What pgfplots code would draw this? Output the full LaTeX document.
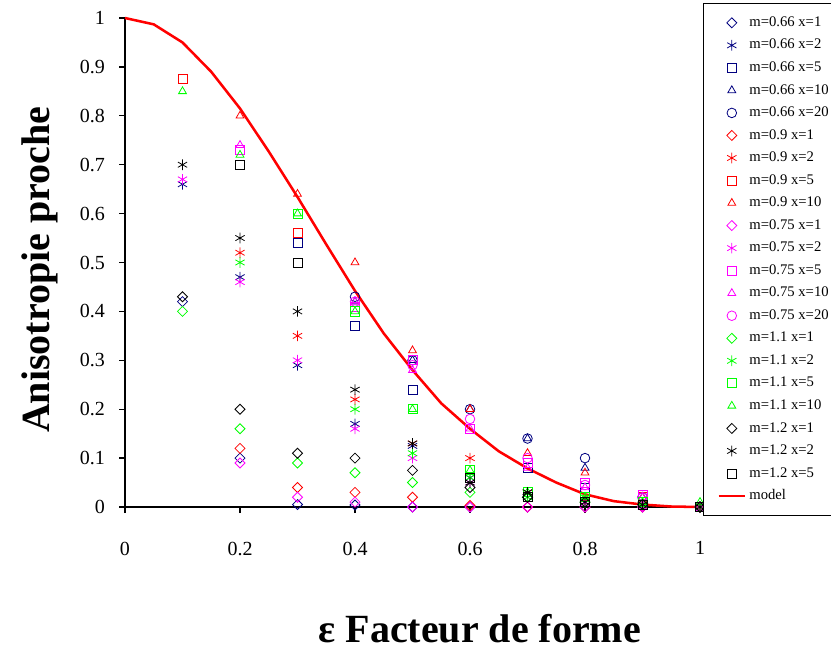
\documentclass[border=0pt]{standalone}
\usepackage{pgfplots}
\pgfplotsset{compat=1.18}
\usepackage{fontspec}
\setmainfont{Liberation Serif}
\definecolor{navyb}{RGB}{0,0,128}
\definecolor{limeg}{RGB}{0,255,0}
\definecolor{magb}{RGB}{255,0,255}
\definecolor{redb}{RGB}{255,0,0}
\pgfplotsset{
 mk/.style={only marks, color=#1, mark options={solid, line width=0.6pt, fill=none, draw=#1},
   legend image code/.code={\draw[mark repeat=2,mark phase=2,##1] plot coordinates {(0cm,0cm)(0.54cm,0cm)(0.9cm,0cm)};}},
 modelleg/.style={legend image code/.code={\path (0cm,0cm); \draw[##1] (0.19cm,0cm) -- (0.9cm,0cm);}},
 dia/.style={mark=square, mark size=2.65pt, every mark/.append style={rotate=45}},
 ast/.style={mark=asterisk, mark size=4pt},
 sq/.style={mark=square, mark size=3.4pt},
 tri/.style={mark=triangle, mark size=3.4pt},
 cir/.style={mark=o, mark size=3.6pt},
}
\begin{document}
\begin{tikzpicture}
\path[use as bounding box] (-93.75pt,-108pt) rectangle (529.5pt,380.25pt);
\begin{axis}[
 at={(0pt,0pt)}, anchor=south west,
 scale only axis, width=431.25pt, height=366.75pt,
 xmin=0, xmax=1, ymin=0, ymax=1,
 clip=false,
 axis x line=bottom, axis y line=left,
 axis line style={-, line width=1.4pt, black},
 tick align=outside, major tick length=4.5pt,
 tick style={black, line width=1pt},
 xtick={0,0.2,0.4,0.6,0.8,1},
 xticklabels={0,0.2,0.4,0.6,0.8,1},
 ytick={0,0.1,0.2,0.3,0.4,0.5,0.6,0.7,0.8,0.9,1},
 yticklabels={0,0.1,0.2,0.3,0.4,0.5,0.6,0.7,0.8,0.9,1},
 xticklabel style={font=\fontsize{15}{18}\selectfont, yshift=-18pt},
 yticklabel style={font=\fontsize{15}{18}\selectfont, xshift=-7pt},
 xlabel={\bfseries ε Facteur de forme},
 ylabel={\bfseries Anisotropie proche},
 xlabel style={font=\fontsize{30}{36}\selectfont, inner sep=0pt, at={(axis description cs:0.617,-0.249)}, anchor=center},
 ylabel style={font=\fontsize{30}{36}\selectfont, at={(axis description cs:-0.148,0.485)}, anchor=center},
 legend style={at={(1.0052,1.0307)}, anchor=north west, draw=black, line width=0.6pt,
   font=\fontsize{11}{13}\selectfont, row sep=8.4pt, inner xsep=5pt, inner ysep=10.3pt,
   nodes={inner ysep=0pt, text height=7pt, text depth=1.5pt}},
 legend cell align=left,
]
% m=0.66
\addplot[mk=navyb, dia] coordinates {(0.1,0.42)(0.2,0.10)(0.3,0.005)(0.4,0.004)(0.5,0)(0.6,0)(0.7,0)(0.8,0)(0.9,0)(1,0)};
\addlegendentry{m=0.66 x=1}
\addplot[mk=navyb, ast] coordinates {(0.1,0.66)(0.2,0.47)(0.3,0.29)(0.4,0.17)(0.5,0.125)(0.6,0.06)(0.7,0.03)(0.8,0.01)(0.9,0.005)(1,0)};
\addlegendentry{m=0.66 x=2}
\addplot[mk=navyb, sq] coordinates {(0.3,0.54)(0.4,0.37)(0.5,0.24)(0.6,0.16)(0.7,0.08)(0.8,0.04)(0.9,0.01)(1,0)};
\addlegendentry{m=0.66 x=5}
\addplot[mk=navyb, tri] coordinates {(0.4,0.42)(0.5,0.30)(0.6,0.20)(0.7,0.14)(0.8,0.08)(0.9,0.02)(1,0)};
\addlegendentry{m=0.66 x=10}
\addplot[mk=navyb, cir] coordinates {(0.4,0.43)(0.5,0.30)(0.6,0.20)(0.7,0.14)(0.8,0.10)(0.9,0.02)(1,0)};
\addlegendentry{m=0.66 x=20}
% m=0.9
\addplot[mk=redb, dia] coordinates {(0.2,0.12)(0.3,0.04)(0.4,0.03)(0.5,0.02)(0.6,0.003)(0.7,0)(0.8,0)(0.9,0)(1,0)};
\addlegendentry{m=0.9 x=1}
\addplot[mk=redb, ast] coordinates {(0.2,0.52)(0.3,0.35)(0.4,0.22)(0.5,0.13)(0.6,0.10)(0.7,0.03)(0.8,0.015)(0.9,0.005)(1,0)};
\addlegendentry{m=0.9 x=2}
\addplot[mk=redb, sq] coordinates {(0.1,0.875)(0.3,0.56)(0.5,0.30)(0.6,0.16)(0.7,0.09)(0.8,0.05)(0.9,0.02)(1,0)};
\addlegendentry{m=0.9 x=5}
\addplot[mk=redb, tri] coordinates {(0.2,0.80)(0.3,0.64)(0.4,0.50)(0.5,0.32)(0.6,0.20)(0.7,0.11)(0.8,0.07)(0.9,0.02)(1,0)};
\addlegendentry{m=0.9 x=10}
% m=0.75
\addplot[mk=magb, dia] coordinates {(0.2,0.09)(0.3,0.02)(0.4,0.01)(0.5,0)(0.6,0)(0.7,0)(0.8,0)(0.9,0)(1,0)};
\addlegendentry{m=0.75 x=1}
\addplot[mk=magb, ast] coordinates {(0.1,0.67)(0.2,0.46)(0.3,0.30)(0.4,0.16)(0.5,0.10)(0.6,0.05)(0.7,0.02)(0.8,0.01)(0.9,0)(1,0)};
\addlegendentry{m=0.75 x=2}
\addplot[mk=magb, sq] coordinates {(0.2,0.73)(0.4,0.41)(0.5,0.30)(0.6,0.16)(0.7,0.09)(0.8,0.05)(0.9,0.025)(1,0)};
\addlegendentry{m=0.75 x=5}
\addplot[mk=magb, tri] coordinates {(0.2,0.74)(0.4,0.42)(0.5,0.28)(0.6,0.16)(0.7,0.08)(0.8,0.04)(0.9,0.02)(1,0)};
\addlegendentry{m=0.75 x=10}
\addplot[mk=magb, cir] coordinates {(0.4,0.42)(0.5,0.29)(0.6,0.18)(0.7,0.10)(0.8,0.045)(0.9,0.02)(1,0)};
\addlegendentry{m=0.75 x=20}
% m=1.1
\addplot[mk=limeg, dia] coordinates {(0.1,0.40)(0.2,0.16)(0.3,0.09)(0.4,0.07)(0.5,0.05)(0.6,0.03)(0.7,0.02)(0.8,0.01)(0.9,0.005)(1,0)};
\addlegendentry{m=1.1 x=1}
\addplot[mk=limeg, ast] coordinates {(0.2,0.50)(0.4,0.20)(0.5,0.11)(0.6,0.06)(0.7,0.02)(0.8,0.02)(0.9,0.005)(1,0)};
\addlegendentry{m=1.1 x=2}
\addplot[mk=limeg, sq] coordinates {(0.2,0.70)(0.3,0.60)(0.4,0.40)(0.5,0.20)(0.6,0.075)(0.7,0.03)(0.8,0.02)(0.9,0.01)(1,0)};
\addlegendentry{m=1.1 x=5}
\addplot[mk=limeg, tri] coordinates {(0.1,0.85)(0.2,0.72)(0.3,0.60)(0.4,0.40)(0.5,0.20)(0.6,0.075)(0.7,0.03)(0.8,0.02)(0.9,0.01)(1,0.01)};
\addlegendentry{m=1.1 x=10}
% m=1.2
\addplot[mk=black, dia] coordinates {(0.1,0.43)(0.2,0.20)(0.3,0.11)(0.4,0.10)(0.5,0.075)(0.6,0.04)(0.7,0.02)(0.8,0.01)(0.9,0.005)(1,0)};
\addlegendentry{m=1.2 x=1}
\addplot[mk=black, ast] coordinates {(0.1,0.70)(0.2,0.55)(0.3,0.40)(0.4,0.24)(0.5,0.13)(0.6,0.05)(0.7,0.03)(0.8,0.01)(0.9,0.005)(1,0)};
\addlegendentry{m=1.2 x=2}
\addplot[mk=black, sq] coordinates {(0.2,0.70)(0.3,0.50)(0.6,0.06)(0.7,0.02)(0.8,0.01)(0.9,0.005)(1,0)};
\addlegendentry{m=1.2 x=5}
% model
\addplot[color=redb, line width=1.9pt, no markers, modelleg] coordinates {(0,1)(0.05,0.987)(0.1,0.950)(0.15,0.890)(0.2,0.815)(0.25,0.727)(0.3,0.634)(0.35,0.537)(0.4,0.442)(0.45,0.355)(0.5,0.280)(0.55,0.212)(0.6,0.160)(0.65,0.114)(0.7,0.079)(0.75,0.050)(0.8,0.026)(0.85,0.012)(0.9,0.005)(0.95,0.001)(1,0)};
\addlegendentry{model}
\end{axis}
\end{tikzpicture}
\end{document}
